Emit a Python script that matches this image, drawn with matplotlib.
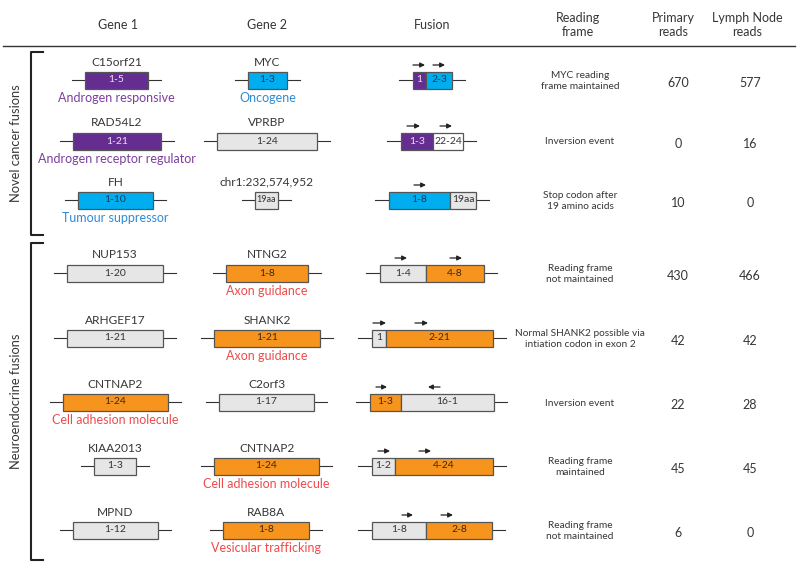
import matplotlib
matplotlib.use("Agg")
import matplotlib.pyplot as plt
from matplotlib.patches import Rectangle

plt.rcParams['font.family'] = ['Lato', 'DejaVu Sans']

# data
gene1 = ["C15orf21", "RAD54L2", "FH", "NUP153", "ARHGEF17", "CNTNAP2", "KIAA2013", "MPND"]
gene1_exons = ["1-5", "1-21", "1-10", "1-20", "1-21", "1-24", "1-3", "1-12"]
gene1_role = ["Androgen responsive", "Androgen receptor regulator", "Tumour suppressor",
              "", "", "Cell adhesion molecule", "", ""]
gene1_type = ["androgen", "androgen", "cancer", None, None, "neuro", None, None]

gene2 = ["MYC", "VPRBP", "chr1:232,574,952", "NTNG2", "SHANK2", "C2orf3", "CNTNAP2", "RAB8A"]
gene2_exons = ["1-3", "1-24", "19aa", "1-8", "1-21", "1-17", "1-24", "1-8"]
gene2_role = ["Oncogene", "", "", "Axon guidance", "Axon guidance", "",
              "Cell adhesion molecule", "Vesicular trafficking"]
gene2_type = ["cancer", None, None, "neuro", "neuro", None, "neuro", "neuro"]

fusion_left = ["1", "1-3", "1-8", "1-4", "1", "1-3", "1-2", "1-8"]
fusion_right = ["2-3", "22-24", "19aa", "4-8", "2-21", "16-1", "4-24", "2-8"]
fusion_right_type = ["cancer", "inverted", None, "neuro", "neuro", None, "neuro", "neuro"]

reading_frame = ["MYC reading\nframe maintained", "Inversion event", "Stop codon after\n19 amino acids",
                 "Reading frame\nnot maintained", "Normal SHANK2 possible via\nintiation codon in exon 2",
                 "Inversion event", "Reading frame\nmaintained", "Reading frame\nnot maintained"]
primary_reads = [670, 0, 10, 430, 42, 22, 45, 6]
lymph_reads = [577, 16, 0, 466, 42, 28, 45, 0]

headers = ["Gene 1", "Gene 2", "Fusion", "Reading\nframe", "Primary\nreads", "Lymph Node\nreads"]
groups = ["Novel cancer fusions", "Neuroendocrine fusions"]

# colours
fill = {"androgen": "#662d91", "cancer": "#00aeef", "neuro": "#f7941d",
        "inverted": "#ffffff", None: "#e6e6e6"}
label_col = {"androgen": "#7b3f9e", "cancer": "#2e8bd6", "neuro": "#ef4b4b", None: "#333333"}
box_txt = {"androgen": "#e8dff0", "cancer": "#1a3a55", "neuro": "#3a2a10",
           "inverted": "#333333", None: "#333333"}

# layout (pixels)
row_y = [80, 141, 200, 273, 338, 402, 466, 530]
g1_box = [(85, 148), (73, 161), (78, 153), (67, 163), (67, 163), (63, 168), (94, 136), (73, 158)]
g2_box = [(248, 287), (217, 317), (255, 278), (226, 308), (214, 320), (219, 314), (214, 319), (223, 309)]
fus_box = [(413, 426, 452), (401, 433, 463), (389, 450, 476), (380, 426, 484),
           (372, 386, 493), (370, 401, 494), (372, 395, 493), (372, 426, 492)]
fus_arrows = [[(413, 425), (433, 445)], [(407, 420), (440, 452)], [(414, 426)],
              [(395, 407), (450, 462)], [(373, 386), (415, 428)], [(376, 387), (440, 428)],
              [(378, 390), (419, 431)], [(402, 413), (441, 453)]]
box_h = 17
txt = "#363636"

fig = plt.figure(figsize=(8, 5.65), dpi=100)
ax = fig.add_axes([0, 0, 1, 1])
ax.set_xlim(0, 800)
ax.set_ylim(565, 0)
ax.axis('off')


def gene_box(x0, x1, y, label, kind, fs=7.5):
    ax.plot([x0 - 13, x1 + 13], [y, y], color="#333333", lw=0.8, zorder=1)
    ax.add_patch(Rectangle((x0, y - box_h / 2), x1 - x0, box_h, facecolor=fill[kind],
                           edgecolor="#555555", lw=0.9, zorder=2))
    ax.text((x0 + x1) / 2, y, label, ha='center', va='center', fontsize=fs,
            color=box_txt[kind], zorder=3)


# header
hx = [118, 267, 432, 578, 673, 747]
for x, h in zip(hx, headers):
    ax.text(x, 25, h, ha='center', va='center', fontsize=9, color=txt, linespacing=1.25)
ax.plot([3, 795], [46, 46], color="#333333", lw=1.0)

# brackets
for (top, bot), g in zip([(52, 235), (243, 560)], groups):
    ax.plot([43, 31, 31, 43], [top, top, bot, bot], color="#222222", lw=1.5)
    ax.text(16, (top + bot) / 2, g, rotation=90, ha='center', va='center',
            fontsize=9.3, color=txt)

for i, y in enumerate(row_y):
    # gene 1
    x0, x1 = g1_box[i]
    gene_box(x0, x1, y, gene1_exons[i], gene1_type[i])
    ax.text((x0 + x1) / 2, y - 18, gene1[i], ha='center', va='center', fontsize=8.6, color=txt)
    if gene1_role[i]:
        ax.text((x0 + x1) / 2, y + 18, gene1_role[i], ha='center', va='center', fontsize=9,
                color=label_col[gene1_type[i]])
    # gene 2
    x0, x1 = g2_box[i]
    gene_box(x0, x1, y, gene2_exons[i], gene2_type[i], fs=6.5 if x1 - x0 < 30 else 7.5)
    ax.text((x0 + x1) / 2, y - 18, gene2[i], ha='center', va='center', fontsize=8.6, color=txt)
    if gene2_role[i]:
        ax.text((x0 + x1) / 2, y + 18, gene2_role[i], ha='center', va='center', fontsize=9,
                color=label_col[gene2_type[i]])
    # fusion
    a, m, b = fus_box[i]
    ax.plot([a - 14, b + 13], [y, y], color="#333333", lw=0.8, zorder=1)
    ax.add_patch(Rectangle((a, y - box_h / 2), m - a, box_h, facecolor=fill[gene1_type[i]],
                           edgecolor="#555555", lw=0.9, zorder=2))
    ax.add_patch(Rectangle((m, y - box_h / 2), b - m, box_h, facecolor=fill[fusion_right_type[i]],
                           edgecolor="#555555", lw=0.9, zorder=2))
    ax.text((a + m) / 2, y, fusion_left[i], ha='center', va='center', fontsize=7.5,
            color=box_txt[gene1_type[i]], zorder=3)
    ax.text((m + b) / 2, y, fusion_right[i], ha='center', va='center', fontsize=7.5,
            color=box_txt[fusion_right_type[i]], zorder=3)
    for s, e in fus_arrows[i]:
        ax.annotate("", xy=(e, y - 15), xytext=(s, y - 15),
                    arrowprops=dict(arrowstyle="-|>", color="#222222", lw=0.9,
                                    mutation_scale=7, shrinkA=0, shrinkB=0))
    # reading frame and reads
    ax.text(580, y + 1, reading_frame[i], ha='center', va='center', fontsize=7.3,
            color=txt, linespacing=1.35)
    ax.text(678, y + 3, str(primary_reads[i]), ha='center', va='center', fontsize=9, color=txt)
    ax.text(750, y + 3, str(lymph_reads[i]), ha='center', va='center', fontsize=9, color=txt)

fig.savefig("out.png", dpi=100)
